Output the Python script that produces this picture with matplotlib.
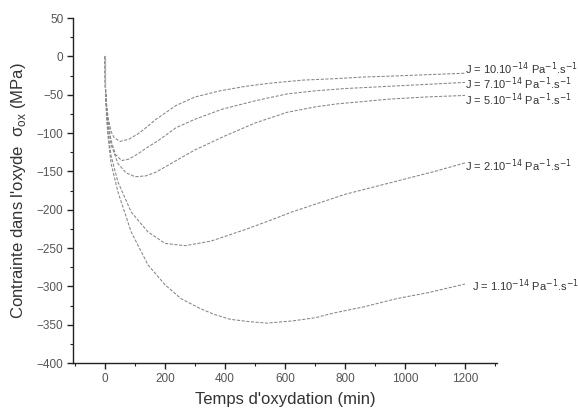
import numpy as np
import matplotlib
matplotlib.use("Agg")
import matplotlib.pyplot as plt
from matplotlib.ticker import MultipleLocator

plt.rcParams["font.family"] = ["Liberation Sans", "DejaVu Sans"]

# ── Données (temps en min, contrainte en MPa) ─────────────────────────────────
t_j10 = [0, 1, 5, 10, 20, 30, 50, 80, 110, 140, 170, 200, 237, 300, 383, 470,
         550, 660, 773, 860, 940, 1070, 1200]
s_j10 = [0, -40, -62, -80, -98, -106, -111, -108, -101, -92, -82, -74, -64, -53,
         -45, -39, -35, -31, -29, -27, -26, -24, -22]

t_j7 = [0, 1, 5, 10, 20, 35, 55, 80, 110, 140, 177, 237, 300, 390, 500, 607,
        700, 800, 900, 1000, 1100, 1200]
s_j7 = [0, -40, -65, -85, -110, -128, -136, -134, -127, -119, -110, -93, -82,
        -69, -58, -49, -45, -42, -40, -38, -36, -34]

t_j5 = [0, 1, 5, 10, 20, 43, 70, 100, 135, 170, 237, 300, 393, 500, 607, 700,
        773, 860, 940, 1070, 1200]
s_j5 = [0, -40, -70, -90, -115, -140, -152, -157, -156, -151, -136, -122, -105,
        -87, -73, -66, -62, -59, -56, -53, -51]

t_j2 = [0, 1, 5, 10, 20, 43, 87, 143, 200, 267, 353, 467, 550, 623, 700, 800,
        900, 1000, 1100, 1200]
s_j2 = [0, -40, -75, -100, -130, -164, -203, -229, -244, -247, -241, -226, -214,
        -203, -193, -180, -170, -160, -150, -139]

t_j1 = [0, 1, 5, 10, 20, 43, 87, 143, 200, 253, 317, 367, 417, 480, 540, 627,
        700, 760, 860, 973, 1080, 1200]
s_j1 = [0, -40, -80, -105, -140, -177, -229, -272, -298, -316, -329, -337, -343,
        -346, -348, -345, -341, -335, -327, -316, -308, -297]

labels = [
    r"J = 10.10$^{-14}$ Pa$^{-1}$.s$^{-1}$",
    r"J = 7.10$^{-14}$ Pa$^{-1}$.s$^{-1}$",
    r"J = 5.10$^{-14}$ Pa$^{-1}$.s$^{-1}$",
    r"J = 2.10$^{-14}$ Pa$^{-1}$.s$^{-1}$",
    r"J = 1.10$^{-14}$ Pa$^{-1}$.s$^{-1}$",
]
label_t = [1200, 1200, 1200, 1200, 1222]
label_s = [-16, -36, -56, -143, -299]

series = [(t_j10, s_j10), (t_j7, s_j7), (t_j5, s_j5), (t_j2, s_j2), (t_j1, s_j1)]

LINE_COLOR = "#858585"
TEXT_COLOR = "#333333"

fig = plt.figure(figsize=(5.78, 4.16), dpi=100)
ax = fig.add_axes([0.1263, 0.1274, 0.7336, 0.8293])

for (t, s) in series:
    ax.plot(t, s, color=LINE_COLOR, linewidth=0.75, linestyle=(0, (3, 1.5)))
# départ quasi vertical en t = 0
ax.plot([0, 0], [0, -40], color="#aaaaaa", linewidth=0.9)

for lab, xt, ys in zip(labels, label_t, label_s):
    ax.text(xt, ys, lab, fontsize=8, color=TEXT_COLOR, va="center", ha="left")

ax.set_xlim(-107, 1307)
ax.set_ylim(-400, 50)
ax.xaxis.set_major_locator(MultipleLocator(200))
ax.xaxis.set_minor_locator(MultipleLocator(100))
ax.yaxis.set_major_locator(MultipleLocator(50))
ax.yaxis.set_minor_locator(MultipleLocator(25))

for side in ["top", "right"]:
    ax.spines[side].set_visible(False)
for side in ["left", "bottom"]:
    ax.spines[side].set_color("#222222")
    ax.spines[side].set_linewidth(1.0)

ax.tick_params(which="major", direction="out", length=4, width=1.0,
               labelsize=8.5, labelcolor="#555555", color="#222222", pad=3)
ax.tick_params(which="minor", direction="out", length=2, width=0.8, color="#222222")

ax.set_xlabel("Temps d'oxydation (min)", fontsize=12, color=TEXT_COLOR, labelpad=5)
ax.set_ylabel(r"Contrainte dans l'oxyde  σ$_{\mathregular{ox}}$ (MPa)", fontsize=12,
              color=TEXT_COLOR, labelpad=6)

fig.savefig("out.png", dpi=100, facecolor="white")
